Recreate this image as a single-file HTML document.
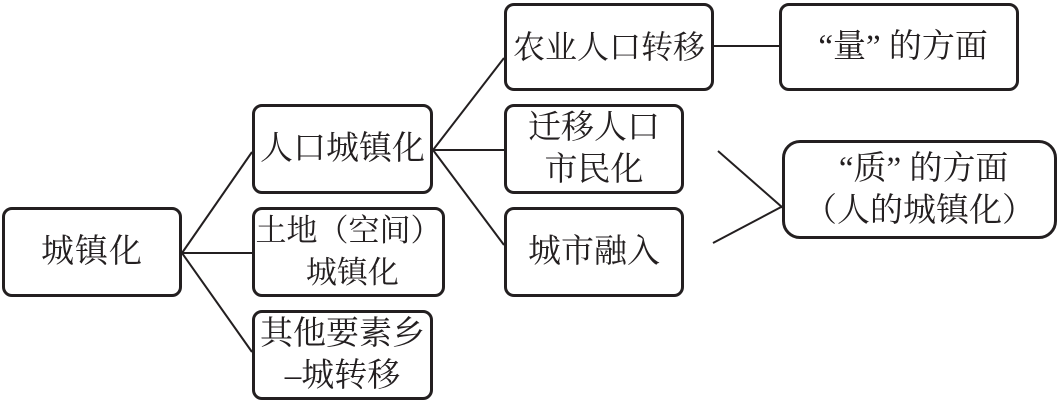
<!DOCTYPE html>
<html><head><meta charset="utf-8"><style>
body{margin:0;width:1058px;height:402px;background:#fff;overflow:hidden;position:relative;font-family:"Liberation Serif","Noto Serif CJK SC",serif;}
.b{position:absolute;box-sizing:border-box;border:3px solid #231f20;border-radius:10px;display:flex;align-items:center;justify-content:center;text-align:center;font-size:33px;line-height:42px;color:#231f20;white-space:nowrap;}
svg{position:absolute;left:0;top:0}
</style></head><body>
<svg width="1058" height="402"><g stroke="#231f20" stroke-width="2" fill="none">
<line x1="182" y1="253" x2="252" y2="152"/><line x1="182" y1="253" x2="252" y2="253"/><line x1="182" y1="253" x2="252" y2="352"/>
<line x1="433" y1="150" x2="504" y2="58"/><line x1="433" y1="150" x2="504" y2="150"/><line x1="433" y1="150" x2="504" y2="245"/>
<line x1="713" y1="46" x2="779" y2="46"/>
<line x1="718" y1="151" x2="783" y2="208"/><line x1="713" y1="243" x2="783" y2="206"/>
</g></svg>
<div class="b" style="left:2px;top:207px;width:180px;height:90px;letter-spacing:1px">城镇化</div>
<div class="b" style="left:252px;top:104px;width:181px;height:90px">人口城镇化</div>
<div class="b" style="left:252px;top:207px;width:193px;height:90px;font-size:31px">土地（空间）<br>&nbsp;城镇化</div>
<div class="b" style="left:252px;top:310px;width:181px;height:90px">其他要素乡<br>–城转移</div>
<div class="b" style="left:504px;top:3px;width:210px;height:88px;font-size:32px">农业人口转移</div>
<div class="b" style="left:779px;top:3px;width:240px;height:88px">&nbsp;“量”&nbsp;的方面</div>
<div class="b" style="left:504px;top:104px;width:180px;height:90px">迁移人口<br>市民化</div>
<div class="b" style="left:504px;top:207px;width:180px;height:90px">城市融入</div>
<div class="b" style="left:782px;top:140px;width:275px;height:99px;border-radius:18px">&nbsp;“质”&nbsp;的方面<br>（人的城镇化）</div>
</body></html>
